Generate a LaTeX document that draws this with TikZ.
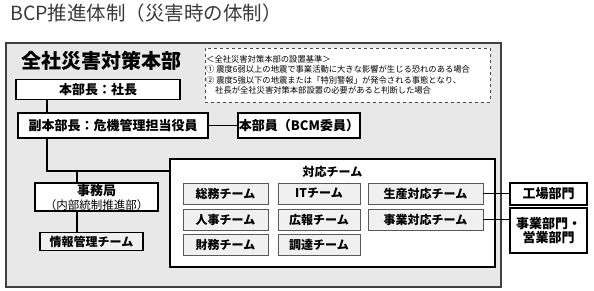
\documentclass[tikz,border=0pt]{standalone}
\usepackage{fontspec}
\setmainfont{Noto Sans CJK JP}
\definecolor{outerfill}{HTML}{E8E8E8}
\definecolor{teamfill}{HTML}{F0F0F0}
\definecolor{titlecol}{HTML}{3A3A3A}
\begin{document}
\begin{tikzpicture}[x=1pt,y=-1pt,
  box/.style={draw=black, line width=1.4pt, fill=white, inner sep=0pt, font=\bfseries\fontsize{13}{15}\selectfont},
  team/.style={draw=black!65, line width=0.8pt, fill=teamfill, inner sep=0pt, minimum height=21pt, font=\bfseries\fontsize{12}{14}\selectfont},
  conn/.style={line width=1.4pt},
  crit/.style={anchor=west, inner sep=0pt, font=\fontsize{8.3}{10}\selectfont}]
\useasboundingbox (0,0) rectangle (594,291);
% title
\node[anchor=west, inner sep=0pt, text=titlecol, font=\fontsize{19.5}{23}\selectfont] (title) at (10,13) {BCP推進体制（災害時の体制）};
% outer frame
\node[draw=black!75, line width=1.2pt, fill=outerfill, minimum width=495pt, minimum height=244pt, inner sep=0pt] (outer) at (253.5,165) {};
\node[anchor=west, inner sep=0pt, font=\bfseries\fontsize{20}{24}\selectfont] (hq) at (21,61) {全社災害対策本部};
% criteria
\node[draw=black!70, dashed, line width=0.7pt, fill=white, minimum width=285pt, minimum height=54pt, inner sep=0pt] (critbox) at (347.5,75) {};
\node[crit] (c1) at (206,59) {＜全社災害対策本部の設置基準＞};
\node[crit] (c2) at (206,69.5) {① 震度6弱以上の地震で事業活動に大きな影響が生じる恐れのある場合};
\node[crit] (c3) at (206,80) {② 震度5強以下の地震または「特別警報」が発令される事態となり、};
\node[crit] (c4) at (215,90.5) {社長が全社災害対策本部設置の必要があると判断した場合};
% main boxes
\node[box, minimum width=164pt, minimum height=20pt] (chief) at (98,89.5) {本部長：社長};
\node[box, minimum width=190pt, minimum height=25pt] (vice) at (113,125.5) {副本部長：危機管理担当役員};
\node[box, minimum width=122pt, minimum height=25pt] (member) at (299,125.5) {本部員（BCM委員）};
\node[box, minimum width=123pt, minimum height=28pt, align=center] (sec) at (96.5,197) {事務局\\[-1pt]{\mdseries\fontsize{11.5}{13}\selectfont （内部統制推進部）}};
\node[box, fill=teamfill, minimum width=103pt, minimum height=18pt, font=\bfseries\fontsize{12}{14}\selectfont] (info) at (91.5,241.5) {情報管理チーム};
% response team
\node[box, minimum width=325pt, minimum height=108pt] (resp) at (332.5,213) {};
\node[inner sep=0pt, font=\bfseries\fontsize{12}{14}\selectfont] (resplabel) at (332.5,172) {対応チーム};
\node[team, minimum width=85pt] (t11) at (225.5,193.5) {総務チーム};
\node[team, minimum width=85pt] (t21) at (225.5,219.5) {人事チーム};
\node[team, minimum width=85pt] (t31) at (225.5,245) {財務チーム};
\node[team, minimum width=82pt] (t12) at (319,193.5) {ITチーム};
\node[team, minimum width=82pt] (t22) at (319,219.5) {広報チーム};
\node[team, minimum width=82pt] (t32) at (319,245) {調達チーム};
\node[team, minimum width=115pt] (prod) at (425.5,193.5) {生産対応チーム};
\node[team, minimum width=115pt] (biz) at (425.5,219.5) {事業対応チーム};
% outside departments
\node[box, minimum width=77pt, minimum height=22pt] (factory) at (548.5,194) {工場部門};
\node[box, minimum width=77pt, minimum height=45pt, align=center] (business) at (548.5,230.5) {事業部門・\\[-1pt]営業部門};
% connectors
\coordinate (j1) at (47,171);
\coordinate (j3) at (77,171);
\draw[conn] (chief.south -| j1) -- (vice.north -| j1);
\draw[conn] (vice.east) -- (member.west);
\draw[conn] (vice.south -| j1) -- (j1) -- (j1 -| resp.west);
\draw[conn] (j3) -- (sec.north -| j3);
\draw[conn] (sec.south -| j3) -- (info.north -| j3);
\draw[conn] (prod.east) -- (factory.west |- prod.east);
\draw[conn] (biz.east) -- (business.west |- biz.east);
\end{tikzpicture}
\end{document}
